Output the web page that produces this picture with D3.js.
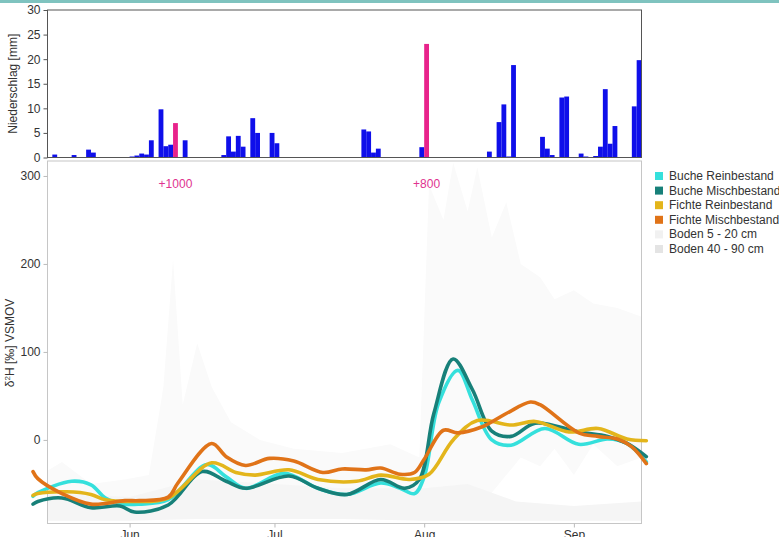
<!DOCTYPE html>
<html lang="de">
<head>
  <meta charset="UTF-8">
  <title>Niederschlag und δ2H</title>
  <script src="https://d3js.org/d3.v7.min.js"></script>
  <style>
    * { margin: 0; padding: 0; box-sizing: border-box; }
    body { background: #fff; font-family: "Liberation Sans", Arial, sans-serif; overflow: hidden; }
    svg { display: block; }
    .tick text { font-size: 12px; fill: #333; font-family: "Liberation Sans", Arial, sans-serif; }
  </style>
</head>
<body>
  <div id="chart"></div>

  <script>
    // Niederschlag (Tageswerte, mm)
    const rainDates = ["2019-05-16","2019-05-20","2019-05-23","2019-05-24","2019-05-31","2019-06-01","2019-06-02","2019-06-03",
      "2019-06-04","2019-06-05","2019-06-06","2019-06-07","2019-06-08","2019-06-09","2019-06-10","2019-06-12","2019-06-13",
      "2019-06-20","2019-06-21","2019-06-22","2019-06-23","2019-06-24","2019-06-26","2019-06-27","2019-06-28","2019-06-30",
      "2019-07-01","2019-07-06","2019-07-19","2019-07-20","2019-07-21","2019-07-22","2019-07-31","2019-08-01","2019-08-02",
      "2019-08-14","2019-08-16","2019-08-17","2019-08-18","2019-08-19","2019-08-25","2019-08-26","2019-08-27","2019-08-29",
      "2019-08-30","2019-09-02","2019-09-03","2019-09-05","2019-09-06","2019-09-07","2019-09-08","2019-09-09","2019-09-11",
      "2019-09-13","2019-09-14"];
    const rainValues = [0.6,0.5,1.6,1.0,0.1,0.2,0.4,0.8,
      0.6,3.5,0.1,9.8,2.3,2.6,7.0,3.5,0.1,
      0.5,4.3,1.2,4.4,2.2,8.0,5.0,0.1,5.0,
      2.9,0.1,5.7,5.3,1.0,1.8,2.1,23.1,0.1,
      1.2,7.2,10.8,0.2,18.8,4.2,1.8,0.5,12.2,
      12.4,0.8,0.2,0.3,2.2,13.9,2.8,6.4,0.1,
      10.4,19.8];
    // markierte Ereignisse (Tracer)
    const markedDates = ["2019-06-10", "2019-08-01"];
    const markedLabels = ["+1000", "+800"];

    // δ2H Xylemwasser
    const bucheReinDates = ["2019-05-12","2019-05-13","2019-05-20","2019-05-24","2019-05-27","2019-05-31","2019-06-03","2019-06-09",
      "2019-06-17","2019-06-21","2019-06-25","2019-07-03","2019-07-10","2019-07-16","2019-07-23","2019-07-27","2019-07-30",
      "2019-08-01","2019-08-04","2019-08-08","2019-08-11","2019-08-15","2019-08-19","2019-08-26","2019-09-02","2019-09-08",
      "2019-09-12","2019-09-16"];
    const bucheReinValues = [-64,-60,-47,-51,-66,-73,-73,-68,
      -28,-42,-55,-38,-55,-62,-49,-55,-61,
      -42,42,79,45,0,-6,13,-5,1,
      -4,-25];

    const bucheMischDates = ["2019-05-12","2019-05-13","2019-05-18","2019-05-24","2019-05-30","2019-06-02","2019-06-09","2019-06-16",
      "2019-06-21","2019-06-25","2019-07-04","2019-07-10","2019-07-16","2019-07-23","2019-07-28","2019-07-31","2019-08-03",
      "2019-08-07","2019-08-11","2019-08-15","2019-08-19","2019-08-24","2019-09-02","2019-09-08","2019-09-12","2019-09-16"];
    const bucheMischValues = [-73,-70,-66,-77,-75,-82,-74,-36,
      -47,-55,-41,-55,-62,-45,-55,-45,30,
      92,57,10,4,19,9,4,-4,-19];

    const fichteReinDates = ["2019-05-12","2019-05-13","2019-05-19","2019-05-24","2019-05-27","2019-06-02","2019-06-09","2019-06-18",
      "2019-06-23","2019-06-27","2019-07-04","2019-07-10","2019-07-18","2019-07-23","2019-07-29","2019-08-02","2019-08-07",
      "2019-08-12","2019-08-19","2019-08-24","2019-08-31","2019-09-06","2019-09-12","2019-09-16"];
    const fichteReinValues = [-63,-61,-59,-62,-68,-70,-66,-26,
      -37,-40,-34,-45,-47,-40,-45,-39,0,
      22,17,21,9,13,1,-1];

    const fichteMischDates = ["2019-05-12","2019-05-13","2019-05-18","2019-05-24","2019-05-31","2019-06-03","2019-06-09","2019-06-11",
      "2019-06-18","2019-06-21","2019-06-25","2019-06-30","2019-07-05","2019-07-11","2019-07-15","2019-07-20","2019-07-23",
      "2019-07-27","2019-07-30","2019-08-01","2019-08-05","2019-08-08","2019-08-13","2019-08-18","2019-08-23","2019-08-25",
      "2019-09-02","2019-09-06","2019-09-10","2019-09-13","2019-09-16"];
    const fichteMischValues = [-36,-44,-61,-73,-69,-69,-65,-49,
      -4,-19,-29,-21,-24,-37,-33,-34,-32,
      -39,-37,-22,11,8,15,30,43,40,
      8,4,1,-8,-27];

    // Bodenwasser (Spannweite)
    const boden1Dates = ["2019-05-12","2019-05-18","2019-05-24","2019-05-31","2019-06-05","2019-06-08","2019-06-10","2019-06-12",
      "2019-06-15","2019-06-18","2019-06-22","2019-06-28","2019-07-05","2019-07-15","2019-07-25","2019-07-31","2019-08-02",
      "2019-08-05","2019-08-07","2019-08-10","2019-08-12","2019-08-15","2019-08-18","2019-08-21","2019-08-25","2019-08-28",
      "2019-09-01","2019-09-05","2019-09-10","2019-09-15"];
    const boden1Upper = [-45,-25,-50,-45,-40,60,205,40,
      110,60,20,0,-10,-15,-5,-20,290,
      250,315,260,310,230,270,200,185,160,
      170,155,150,140];
    const boden1Lower = [-88,-85,-88,-85,-85,-85,-80,-80,
      -78,-75,-75,-70,-70,-70,-75,-80,-85,
      -80,-75,-75,-70,-60,-40,-20,-30,-10,
      -40,-5,-30,-20];

    const boden2Dates = ["2019-05-12","2019-06-01","2019-06-15","2019-07-01","2019-07-15","2019-08-01","2019-08-10","2019-08-20","2019-09-01","2019-09-15"];
    const boden2Upper = [-60,-65,-45,-50,-55,-55,-50,-70,-75,-70];
    const boden2Lower = [-92,-92,-90,-90,-90,-92,-92,-92,-92,-92];

    const seriesNames = ["Buche Reinbestand", "Buche Mischbestand", "Fichte Reinbestand", "Fichte Mischbestand"];
    const seriesColors = ["#35e0dc", "#178079", "#e3b51b", "#e07318"];
    const bodenNames = ["Boden 5 - 20 cm", "Boden 40 - 90 cm"];
    const bodenColors = ["#fafafa", "#f5f5f5"];
    const bodenLegendColors = ["#f1f1f1", "#e4e4e4"];

    const monthTicks = ["2019-06-01", "2019-07-01", "2019-08-01", "2019-09-01"];
    const monthLabels = ["Jun", "Jul", "Aug", "Sep"];
    const rainTicks = [0, 5, 10, 15, 20, 25, 30];
    const isoTicks = [0, 100, 200, 300];

    const parse = d3.timeParse("%Y-%m-%d");

    const W = 779, H = 537;
    const left = 47.5, right = 641.5;
    const top1 = 10, bottom1 = 157.5;
    const top2 = 161, bottom2 = 523.5;

    const svg = d3.select("#chart").append("svg")
      .attr("width", W).attr("height", H);

    // Streifen oben
    svg.append("rect").attr("x", 0).attr("y", 0).attr("width", W).attr("height", 3).attr("fill", "#7fc3bf");

    const x = d3.scaleTime()
      .domain([parse("2019-05-15"), parse("2019-09-15")])
      .range([left, right]);

    const yRain = d3.scaleLinear().domain([0, 30]).range([bottom1, top1]);
    const yIso = d3.scaleLinear().domain([-95, 317]).range([bottom2, top2]);

    // ---------- oberes Panel: Niederschlag ----------
    const rain = rainDates.map((d, i) => ({
      date: parse(d), value: rainValues[i], marked: markedDates.includes(d)
    }));

    svg.append("g").selectAll("rect")
      .data(rain)
      .enter()
      .append("rect")
      .attr("x", d => x(d.date))
      .attr("y", d => yRain(d.value))
      .attr("width", d => x(d3.timeDay.offset(d.date, 1)) - x(d.date))
      .attr("height", d => bottom1 - yRain(d.value))
      .attr("fill", d => d.marked ? "#e8238b" : "#0f0fea");

    svg.append("rect")
      .attr("x", left).attr("y", top1)
      .attr("width", right - left).attr("height", bottom1 - top1)
      .attr("fill", "none").attr("stroke", "#555").attr("stroke-width", 1);

    const axRain = svg.append("g")
      .attr("transform", `translate(${left},0)`)
      .call(d3.axisLeft(yRain).tickValues(rainTicks).tickSize(4).tickSizeOuter(0).tickPadding(3));
    axRain.select(".domain").remove();
    axRain.selectAll("line").attr("stroke", "#555");

    svg.append("text")
      .attr("transform", `translate(17,${(top1 + bottom1) / 2}) rotate(-90)`)
      .attr("text-anchor", "middle")
      .style("font-size", "12px").style("fill", "#333")
      .text("Niederschlag [mm]");

    // ---------- unteres Panel: δ2H ----------
    svg.append("clipPath").attr("id", "clip2")
      .append("rect").attr("x", left).attr("y", top2)
      .attr("width", right - left).attr("height", bottom2 - top2);

    const bodenSets = [
      { dates: boden1Dates, upper: boden1Upper, lower: boden1Lower },
      { dates: boden2Dates, upper: boden2Upper, lower: boden2Lower }
    ];

    const area = d3.area()
      .x(d => x(d.date))
      .y0(d => yIso(d.lo))
      .y1(d => yIso(d.hi));

    const gArea = svg.append("g").attr("clip-path", "url(#clip2)");
    bodenSets.forEach((s, k) => {
      const pts = s.dates.map((d, i) => ({ date: parse(d), hi: s.upper[i], lo: s.lower[i] }));
      gArea.append("path")
        .datum(pts)
        .attr("d", area)
        .attr("fill", bodenColors[k]);
    });

    svg.append("rect")
      .attr("x", left).attr("y", top2)
      .attr("width", right - left).attr("height", bottom2 - top2)
      .attr("fill", "none").attr("stroke", "#c6c6c6").attr("stroke-width", 1);

    const axIso = svg.append("g")
      .attr("transform", `translate(${left},0)`)
      .call(d3.axisLeft(yIso).tickValues(isoTicks).tickSize(4).tickSizeOuter(0).tickPadding(3));
    axIso.select(".domain").remove();
    axIso.selectAll("line").attr("stroke", "#bbb");

    const monthDates = monthTicks.map(parse);
    const axX = svg.append("g")
      .attr("transform", `translate(0,${bottom2})`)
      .call(d3.axisBottom(x).tickValues(monthDates)
        .tickFormat((d, i) => monthLabels[i])
        .tickSize(4).tickSizeOuter(0).tickPadding(3));
    axX.select(".domain").remove();
    axX.selectAll("line").attr("stroke", "#bbb");

    const yTitle = svg.append("text")
      .attr("transform", `translate(14,${343}) rotate(-90)`)
      .attr("text-anchor", "middle")
      .style("font-size", "12px").style("fill", "#333");
    yTitle.append("tspan").text("δ");
    yTitle.append("tspan").attr("baseline-shift", "super").style("font-size", "8px").text("2");
    yTitle.append("tspan").text("H [‰] VSMOV");

    // Linien
    const lineSets = [
      { dates: bucheReinDates, values: bucheReinValues },
      { dates: bucheMischDates, values: bucheMischValues },
      { dates: fichteReinDates, values: fichteReinValues },
      { dates: fichteMischDates, values: fichteMischValues }
    ];

    const line = d3.line()
      .x(d => x(d.date))
      .y(d => yIso(d.value))
      .curve(d3.curveCatmullRom.alpha(0.5));

    lineSets.forEach((s, k) => {
      const pts = s.dates.map((d, i) => ({ date: parse(d), value: s.values[i] }));
      svg.append("path")
        .datum(pts)
        .attr("d", line)
        .attr("fill", "none")
        .attr("stroke", seriesColors[k])
        .attr("stroke-width", 3.6)
        .attr("stroke-linecap", "round")
        .attr("stroke-linejoin", "round");
    });

    // Tracer-Beschriftungen
    markedDates.forEach((d, i) => {
      const dt = parse(d);
      svg.append("text")
        .attr("x", (x(dt) + x(d3.timeDay.offset(dt, 1))) / 2)
        .attr("y", 188)
        .attr("text-anchor", "middle")
        .style("font-size", "12px").style("fill", "#e0338f")
        .text(markedLabels[i]);
    });

    // Legende
    const legendItems = seriesNames.map((n, i) => ({ name: n, color: seriesColors[i] }))
      .concat(bodenNames.map((n, i) => ({ name: n, color: bodenLegendColors[i] })));

    const legend = svg.append("g").attr("transform", "translate(655,176)");
    legendItems.forEach((it, i) => {
      legend.append("rect")
        .attr("x", 0).attr("y", i * 14.6 - 4)
        .attr("width", 8).attr("height", 8)
        .attr("fill", it.color);
      legend.append("text")
        .attr("x", 14).attr("y", i * 14.6 + 4)
        .style("font-size", "12px").style("fill", "#333")
        .text(it.name);
    });
  </script>
</body>
</html>
